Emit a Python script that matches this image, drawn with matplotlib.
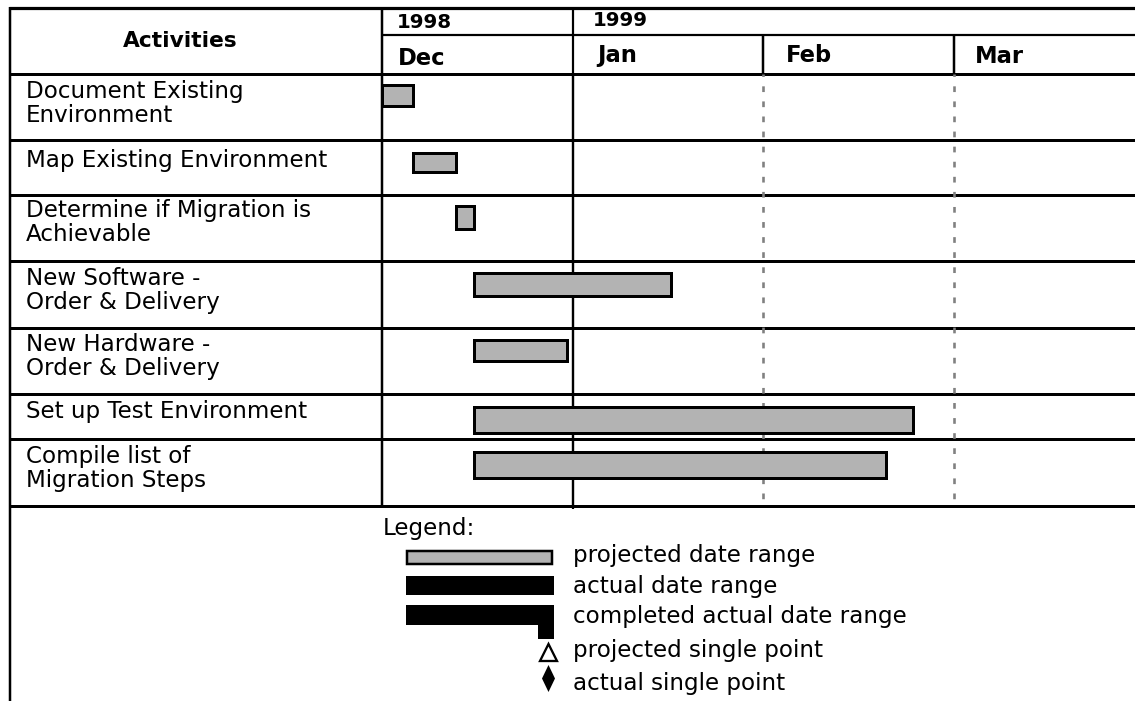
import matplotlib
matplotlib.use("Agg")
import matplotlib.pyplot as plt
from matplotlib.patches import Rectangle, Polygon
import pandas as pd

# ---------------- data ----------------
activities = [
    "Document Existing\nEnvironment",
    "Map Existing Environment",
    "Determine if Migration is\nAchievable",
    "New Software -\nOrder & Delivery",
    "New Hardware -\nOrder & Delivery",
    "Set up Test Environment",
    "Compile list of\nMigration Steps",
]
start_dates = ["1998-12-01", "1998-12-06", "1998-12-13", "1998-12-16",
               "1998-12-16", "1998-12-16", "1998-12-16"]
end_dates = ["1998-12-05", "1998-12-12", "1998-12-15", "1999-01-16",
             "1998-12-30", "1999-02-22", "1999-02-18"]
years = ["1998", "1999"]
months = ["Dec", "Jan", "Feb", "Mar"]
legend_labels = ["projected date range", "actual date range",
                 "completed actual date range", "projected single point",
                 "actual single point"]

# ---------------- layout (pixels) ----------------
W, H = 1135, 701
LEFT, COL, RIGHT = 10, 382, 1135
MONTH_W = 190.7
row_bounds = [74, 140, 195, 261, 328, 394, 439, 506]
label_dy = [24, 27, 22, 24, 23, 24, 24]
bar_center = [95, 162, 217, 284, 350, 419.5, 465.5]
bar_h = [21, 19, 23, 23, 21, 26, 26]
PX = 0.72  # points per pixel at dpi 100

FONT = "DejaVu Sans"
plt.rcParams["font.family"] = [FONT]

fig = plt.figure(figsize=(W / 100, H / 100), dpi=100)
bg = fig.add_axes([0, 0, 1, 1])
bg.set_xlim(0, W)
bg.set_ylim(H, 0)
bg.axis("off")


def hline(y, x0, x1, lw, color="black"):
    bg.plot([x0, x1], [y, y], color=color, lw=lw * PX, solid_capstyle="butt")


def vline(x, y0, y1, lw, color="black", ls="-"):
    bg.plot([x, x], [y0, y1], color=color, lw=lw * PX, ls=ls,
            solid_capstyle="butt")


# table frame
hline(8, LEFT - 1, RIGHT, 3.2)
hline(35, COL, RIGHT, 2.2)
for y in row_bounds:
    hline(y, LEFT - 1, RIGHT, 3)
vline(LEFT, 7, H, 2.5)
vline(COL, 7, row_bounds[-1], 2.5)
month_x = [COL + i * MONTH_W for i in range(len(months))]
vline(month_x[1], 7, row_bounds[-1] + 3, 2.2)
for mx in month_x[2:]:
    vline(mx, 35, row_bounds[0], 2.5)

# header texts
bg.text(180, 47, "Activities", fontsize=15.7, fontweight="bold",
        ha="center", va="baseline")
year_pos = [(397, 28), (593, 26)]
for (x, y), t in zip(year_pos, years):
    bg.text(x, y, t, fontsize=14.3, fontweight="bold", ha="left", va="baseline")
month_off = [(16, 65), (25, 62), (22, 62), (21, 63)]
for mx, (dx, y), t in zip(month_x, month_off, months):
    bg.text(mx + dx, y, t, fontsize=16.3, fontweight="bold", ha="left",
            va="baseline")

# activity labels
for i, lab in enumerate(activities):
    y0 = row_bounds[i] + label_dy[i]
    for j, line in enumerate(lab.split("\n")):
        bg.text(26, y0 + 24 * j, line, fontsize=16.6, ha="left", va="baseline")

# ---------------- gantt axes ----------------
top, bot = row_bounds[0], row_bounds[-1]
g = fig.add_axes([COL / W, (H - bot) / H, (RIGHT - COL) / W, (bot - top) / H])
g.set_xlim(0, (RIGHT - COL) / MONTH_W)
g.set_ylim(bot, top)
g.axis("off")


def month_pos(s, end=False):
    d = pd.Timestamp(s)
    idx = (d.year - 1998) * 12 + d.month - 12
    return idx + (d.day - (0 if end else 1)) / d.days_in_month


starts = [month_pos(s) for s in start_dates]
ends = [month_pos(e, end=True) for e in end_dates]
widths = [e - s for s, e in zip(starts, ends)]

g.axvline(1, color="black", lw=2.2 * PX, zorder=0.5)
for m in (2, 3):
    g.axvline(m, color="#808080", lw=2.6 * PX, ls=(3, (2.2, 3.6)), zorder=0.5)
g.barh(bar_center, widths, left=starts, height=bar_h, color="#b3b3b3",
       edgecolor="black", linewidth=3 * PX, zorder=2)

# ---------------- legend ----------------
bg.text(383, 535, "Legend:", fontsize=16.6, ha="left", va="baseline")
bg.add_patch(Rectangle((407.2, 551.2), 144.6, 12.6, facecolor="#b3b3b3",
                       edgecolor="black", lw=2.5 * PX))
bg.add_patch(Rectangle((406, 576), 148, 19, facecolor="black", edgecolor="none"))
bg.add_patch(Polygon([(406, 605), (554, 605), (554, 639), (538, 639),
                      (538, 625), (406, 625)], closed=True,
                     facecolor="black", edgecolor="none"))
bg.add_patch(Polygon([(540, 661), (557, 661), (548.5, 644)], closed=True,
                     facecolor="white", edgecolor="black", lw=2.3 * PX,
                     joinstyle="miter"))
bg.add_patch(Polygon([(548.5, 665), (555, 678.5), (548.5, 692), (542, 678.5)],
                     closed=True, facecolor="black", edgecolor="none"))
leg_y = [562, 593, 623, 657, 690]
for y, t in zip(leg_y, legend_labels):
    bg.text(573, y, t, fontsize=16.6, ha="left", va="baseline")

fig.savefig("out.png", dpi=100)
